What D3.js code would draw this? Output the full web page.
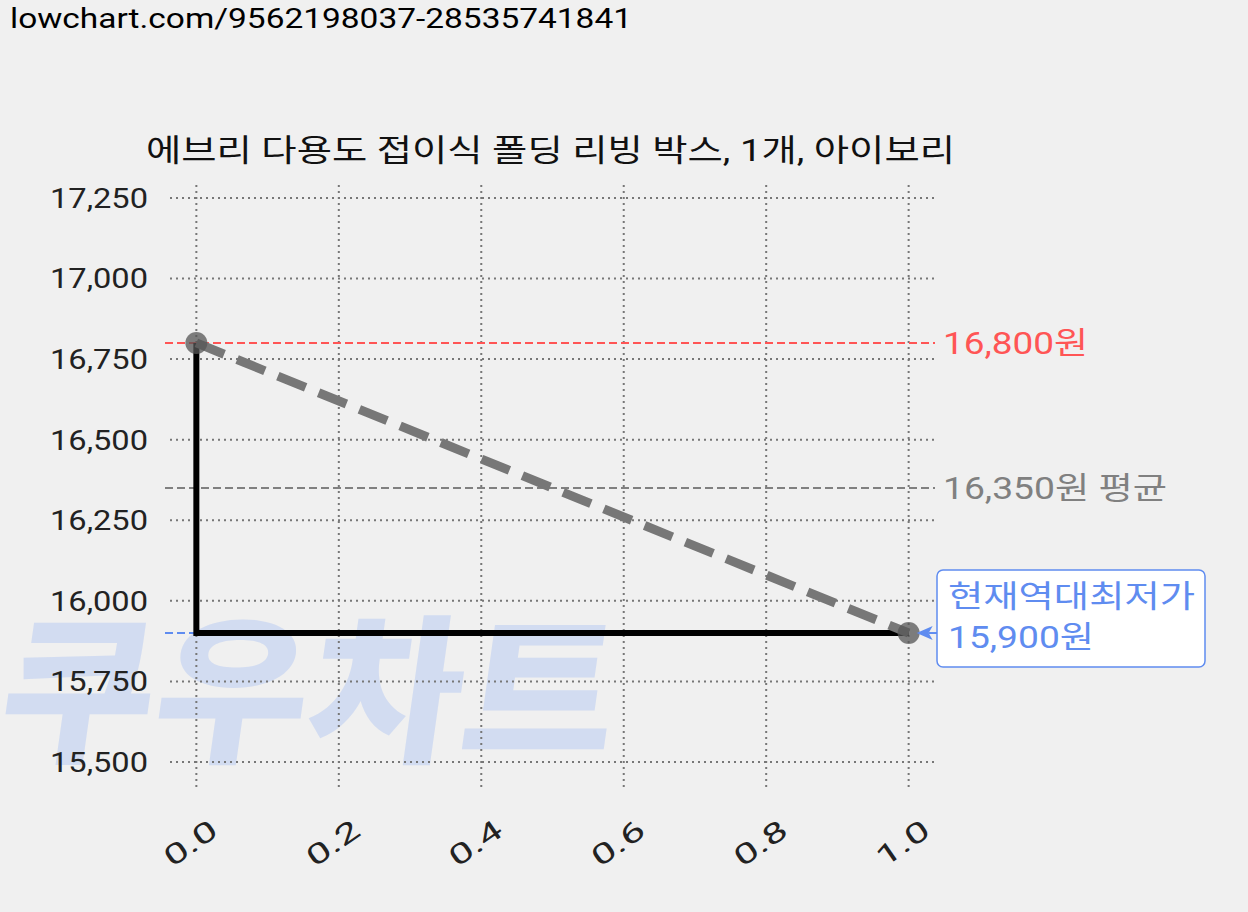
<!DOCTYPE html><html><head><meta charset="utf-8"><script src="https://cdn.jsdelivr.net/npm/d3@7"></script>
<style>body{margin:0;background:#f0f0f0;font-family:Roboto,"Noto Sans CJK KR",sans-serif}</style></head><body>
<svg id="c" width="1248" height="912"></svg>
<script>
const xs=[0,1];
const prices=[16800,15900];
const yTicks=[15500,15750,16000,16250,16500,16750,17000,17250];
const xTicks=[0,0.2,0.4,0.6,0.8,1.0];
const maxP=16800,avgP=16350,minP=15900;
const title="에브리 다용도 접이식 폴딩 리빙 박스, 1개, 아이보리";
const svg=d3.select("#c");
const F='Roboto,"Noto Sans CJK KR",sans-serif';
svg.append("text").attr("x",10).attr("y",28).attr("font-size",28).attr("font-family",F).attr("textLength",622).attr("lengthAdjust","spacingAndGlyphs").text("lowchart.com/9562198037-28535741841");
const x=d3.scaleLinear().domain([-0.037,1.037]).range([170,935]);
const y=d3.scaleLinear().domain([15413,17290]).range([790,185]);
svg.append("text").attr("x",0).attr("y",750).attr("font-size",160).attr("font-weight",900).attr("font-family",F).attr("fill","#c9d6f2").attr("opacity",0.75).attr("textLength",615).attr("lengthAdjust","spacingAndGlyphs").attr("transform","skewX(-8) translate(100,0)").text("쿠우차트");
const g=svg.append("g");
yTicks.forEach(v=>g.append("line").attr("x1",170).attr("x2",935).attr("y1",y(v)).attr("y2",y(v)).attr("stroke","#777").attr("stroke-width",2).attr("stroke-dasharray","2,4"));
xTicks.forEach(v=>g.append("line").attr("y1",185).attr("y2",790).attr("x1",x(v)).attr("x2",x(v)).attr("stroke","#777").attr("stroke-width",2).attr("stroke-dasharray","2,4"));
const fmt=d3.format(",");
yTicks.forEach(v=>svg.append("text").attr("x",148).attr("y",y(v)+10).attr("text-anchor","end").attr("font-size",28).attr("font-family",F).attr("fill","#222").attr("textLength",98).attr("lengthAdjust","spacingAndGlyphs").text(fmt(v)));
xTicks.forEach(v=>svg.append("text").attr("transform",`translate(${x(v)+12},${818}) rotate(-35)`).attr("text-anchor","end").attr("dy",20).attr("font-size",28).attr("font-family",F).attr("fill","#222").attr("textLength",58).attr("lengthAdjust","spacingAndGlyphs").text(v.toFixed(1)));
[[maxP,"#ff5555"],[avgP,"#808080"],[minP,"#5f8cf0"]].forEach(([v,c])=>svg.append("line").attr("x1",165).attr("x2",v===minP?905:935).attr("y1",y(v)).attr("y2",y(v)).attr("stroke",c).attr("stroke-width",2).attr("stroke-dasharray","8,4"));
svg.append("text").attr("x",943).attr("y",y(maxP)+11).attr("font-size",31).attr("font-family",F).attr("fill","#ff5555").attr("textLength",145).attr("lengthAdjust","spacingAndGlyphs").text("16,800원");
svg.append("text").attr("x",943).attr("y",y(avgP)+11).attr("font-size",31).attr("font-family",F).attr("fill","#808080").attr("textLength",224).attr("lengthAdjust","spacingAndGlyphs").text("16,350원 평균");
const pts=xs.map((v,i)=>[v,prices[i]]);
svg.append("path").attr("d",d3.line().x(d=>x(d[0])).y(d=>y(d[1]))([[0,prices[0]],[0,prices[1]],[1,prices[1]]])).attr("fill","none").attr("stroke","#000").attr("stroke-width",6);
svg.append("path").attr("d",d3.line().x(d=>x(d[0])).y(d=>y(d[1]))(pts)).attr("fill","none").attr("stroke","#777").attr("stroke-width",9).attr("stroke-dasharray","30,14");
pts.forEach(p=>svg.append("circle").attr("cx",x(p[0])).attr("cy",y(p[1])).attr("r",11).attr("fill","#555").attr("opacity",0.75));
svg.append("rect").attr("x",937).attr("y",570).attr("width",268).attr("height",97).attr("rx",6).attr("fill","#fff").attr("stroke","#5f8cf0").attr("stroke-width",1.5);
svg.append("text").attr("x",948).attr("y",607).attr("font-size",31).attr("font-family",F).attr("fill","#5f8cf0").attr("textLength",247).attr("lengthAdjust","spacingAndGlyphs").text("현재역대최저가");
svg.append("text").attr("x",948).attr("y",648).attr("font-size",31).attr("font-family",F).attr("fill","#5f8cf0").attr("textLength",146).attr("lengthAdjust","spacingAndGlyphs").text("15,900원");
svg.append("path").attr("d",`M${x(1)+8},${y(minP)} l16,-7 l-4,7 l4,7 z`).attr("fill","#5f8cf0");
svg.append("line").attr("x1",x(1)+20).attr("x2",937).attr("y1",y(minP)).attr("y2",y(minP)).attr("stroke","#5f8cf0").attr("stroke-width",2);
svg.append("text").attr("x",146).attr("y",161).attr("font-size",31).attr("font-family",F).attr("fill","#111").attr("textLength",809).attr("lengthAdjust","spacingAndGlyphs").text(title);
</script></body></html>
